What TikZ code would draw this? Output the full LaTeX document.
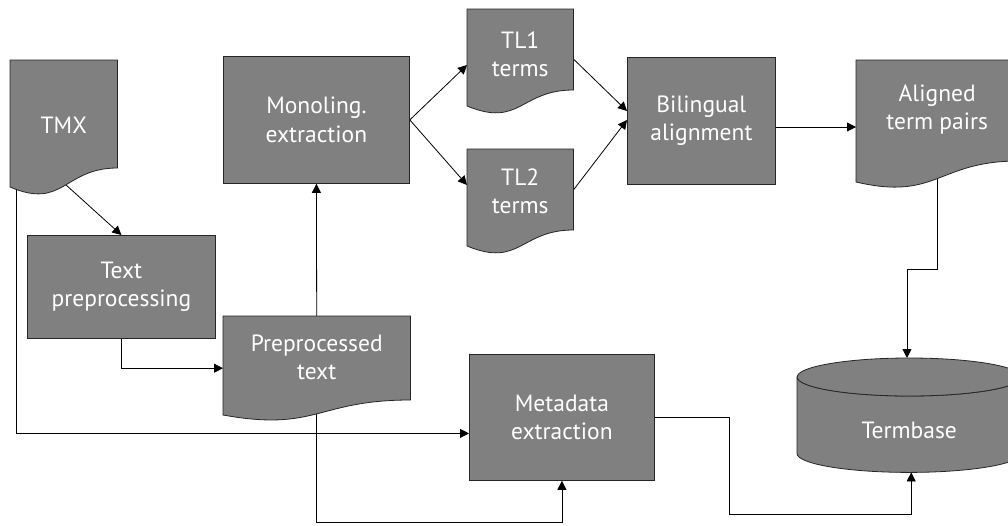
\documentclass[tikz,border=0pt]{standalone}
\usepackage{fontspec}
\newfontfamily\diagfont{PT Sans}
\usetikzlibrary{arrows.meta,calc}

% layers: connectors at the back, document outlines above them, boxes and text on top
\pgfdeclarelayer{wires}
\pgfdeclarelayer{docs}
\pgfsetlayers{wires,docs,main}

\definecolor{boxfill}{RGB}{128,128,128}
\definecolor{edgecol}{RGB}{38,38,38}

\tikzset{
  labelfont/.style={font=\diagfont\fontsize{23.5}{28.5}\selectfont, text=white, align=center},
  procbox/.style={draw=edgecol, line width=0.8pt, fill=boxfill, labelfont,
                  inner sep=0pt, anchor=north west},
  docnode/.style={labelfont, inner sep=0pt, anchor=north west},
  docshape/.style={draw=edgecol, line width=0.8pt, fill=boxfill},
  wire/.style={line width=0.8pt, draw=black},
  flow/.style={wire, -{Triangle[length=9pt,width=9pt]}},
}

% document outline around a node: #2 right-side drop, #3 left-side drop,
% #4 depth of the lower wave control point (all from the node's top edge)
\newcommand\docoutline[4]{%
  \begin{pgfonlayer}{docs}
    \path[docshape] (#1.north west) -- (#1.north east) -- ($(#1.north east)+(0,#2)$)
      .. controls ($(#1.north)+(0,#2)$) and ($(#1.north)+(0,#4)$) ..
      ($(#1.north west)+(0,#3)$) -- cycle;
  \end{pgfonlayer}}

\begin{document}
\begin{tikzpicture}[x=1pt,y=-1pt]
\useasboundingbox (0,0) rectangle (1008,525);

% documents
\node[docnode, minimum width=107pt, minimum height=130pt] (tmx) at (10,60) {TMX};
\docoutline{tmx}{108}{127}{150}
\node[docnode, minimum width=106pt, minimum height=90pt] (tl1) at (467,9) {TL1\\terms};
\docoutline{tl1}{81}{97}{119}
\node[docnode, minimum width=106pt, minimum height=84pt] (tl2) at (467,149) {TL2\\terms};
\docoutline{tl2}{81}{97}{119}
\node[docnode, minimum width=187pt, minimum height=82pt] (ptext) at (223,316) {Preprocessed\\text};
\docoutline{ptext}{84}{99}{116}
\node[docnode, minimum width=162pt, minimum height=99pt] (al) at (856,60) {Aligned\\term pairs};
\docoutline{al}{101}{122}{141}

% process boxes
\node[procbox, minimum width=188pt, minimum height=103pt] (prep) at (27,235) {Text\\preprocessing};
\node[procbox, minimum width=186pt, minimum height=127pt] (mono) at (223,56) {Monoling.\\extraction};
\node[procbox, minimum width=148pt, minimum height=127pt] (bil) at (627,57) {Bilingual\\alignment};
\node[procbox, minimum width=185pt, minimum height=126pt] (meta) at (469,354) {Metadata\\extraction};

% termbase cylinder
\node[docnode, minimum width=224pt, minimum height=114pt, text height=46pt, text depth=0pt]
  (tb) at (797,358) {Termbase};
\begin{pgfonlayer}{docs}
  \path[docshape] ($(tb.north west)+(0,19)$) -- ($(tb.south west)+(0,-19)$)
    arc[start angle=180, end angle=360, x radius=112pt, y radius=19pt]
    -- ($(tb.north east)+(0,19)$)
    arc[start angle=0, end angle=-180, x radius=112pt, y radius=19pt] -- cycle;
  \path[docshape] ($(tb.north)+(0,19)$) ellipse [x radius=112pt, y radius=19pt];
\end{pgfonlayer}

\coordinate (bend) at (907,269);

% connectors
\begin{pgfonlayer}{wires}
  \draw[flow] ($(tmx.north west)+(45,115)$) -- (prep.north);
  \draw[flow] ($(tmx.north west)+(6,110)$) |- ($(meta.west)+(0,16)$);
  \draw[flow] (prep.south) |- ($(ptext.west)+(0,11)$);
  \draw[flow] (ptext.north) -- (mono.south);
  \draw[flow] (ptext.south) -- ++(0,124) -| (meta.south);
  \draw[flow] (mono.east) -- ($(tl1.north west)+(0,56)$);
  \draw[flow] (mono.east) -- ($(tl2.north west)+(0,36)$);
  \draw[flow] ($(tl1.north east)+(0,50)$) -- ($(bil.north west)+(0,54)$);
  \draw[flow] ($(tl2.north east)+(0,41)$) -- ($(bil.north west)+(0,63)$);
  \draw[flow] ($(bil.north east)+(0,70)$) -- ($(al.north west)+(0,67)$);
  \draw[flow] (al.south) |- (bend) -- (bend |- tb.north);
  \draw[flow] (meta.east) -- ++(75,0) -- ++(0,97) -| ($(tb.south)+(2,0)$);
\end{pgfonlayer}
\end{tikzpicture}
\end{document}
